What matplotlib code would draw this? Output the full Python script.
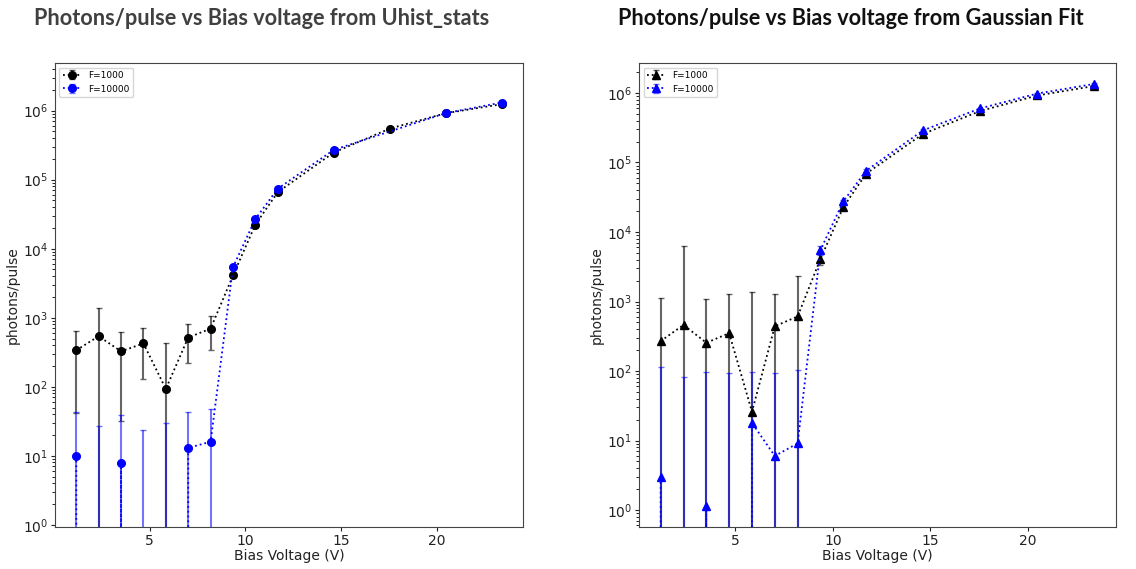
import numpy as np
import matplotlib
matplotlib.use("Agg")
import matplotlib.pyplot as plt

# bias voltages (V)
bias = [1.17, 2.34, 3.51, 4.68, 5.85, 7.02, 8.19, 9.36, 10.53, 11.7, 14.62, 17.55, 20.47, 23.4]
bias_blue_left = [1.17, 2.34, 3.51, 4.68, 5.85, 7.02, 8.19, 9.36, 10.53, 11.7, 14.62, 20.47, 23.4]

# Uhist_stats
uh_f1000 = [338, 540, 326, 424, 93, 517, 695, 4100, 22400, 66000, 247000, 549000, 917000, 1240000]
uh_f1000_err = [297, 830, 294, 296, 337, 298, 355, 250, 1200, 3000, 9000, 15000, 25000, 40000]
uh_f10000 = [10, -4, 7.9, -7, -1, 13, 16, 5400, 27000, 74000, 270000, 920000, 1310000]
uh_f10000_err = [33, 31, 31, 31, 31, 30, 31, 300, 1500, 3500, 10000, 25000, 40000]

# Gaussian fit
gf_f1000 = [270, 460, 255, 350, 26, 440, 610, 4100, 22700, 69000, 258000, 550000, 920000, 1260000]
gf_f1000_err = [860, 5740, 845, 930, 1344, 840, 1740, 700, 1500, 3000, 9000, 15000, 25000, 40000]
gf_f10000 = [2.95, -13, 1.15, -2, 17.9, 6.0, 9.1, 5500, 27500, 76000, 290000, 600000, 980000, 1350000]
gf_f10000_err = [111, 95, 97, 97, 80, 89, 96, 800, 1800, 3500, 10000, 16000, 26000, 40000]

fig = plt.figure(figsize=(11.36, 5.69), dpi=100)
ax1 = fig.add_axes([0.0484, 0.0738, 0.412, 0.8155])
ax2 = fig.add_axes([0.5625, 0.0738, 0.4199, 0.8155])

kw = dict(ls=':', lw=1.3, ms=5.5, capsize=2, elinewidth=1.5)

ax1.errorbar(bias, uh_f1000, yerr=uh_f1000_err, fmt='o', color='k',
             ecolor=(0, 0, 0, 0.6), label='F=1000', **kw)
ax1.errorbar(bias_blue_left, uh_f10000, yerr=uh_f10000_err, fmt='o', color='b',
             ecolor=(0, 0, 1, 0.55), label='F=10000', **kw)

ax2.errorbar(bias, gf_f1000, yerr=gf_f1000_err, fmt='^', color='k',
             ecolor=(0, 0, 0, 0.6), label='F=1000', **kw)
ax2.errorbar(bias, gf_f10000, yerr=gf_f10000_err, fmt='^', color='b',
             ecolor=(0, 0, 1, 0.55), label='F=10000', **kw)

for ax in (ax1, ax2):
    ax.set_yscale('log')
    ax.set_xlabel('Bias Voltage (V)', fontsize=10, color='#222222', labelpad=1)
    ax.set_ylabel('photons/pulse', fontsize=10, color='#222222', labelpad=2)
    ax.tick_params(labelsize=10, colors='#222222', length=3, pad=2)
    ax.tick_params(which='minor', length=2)
    for s in ax.spines.values():
        s.set_color('#444444')
    ax.legend(loc='upper left', fontsize=6.5)
    ax.set_xticks([5, 10, 15, 20])

ax1.set_ylim(0.93, 4.9e6)
ax2.set_ylim(0.57, 2.7e6)

fig.text(0.2306, 0.968, 'Photons/pulse vs Bias voltage from Uhist_stats',
         ha='center', va='center', fontsize=15.6, fontweight='bold',
         family='Lato', color='#404040')
fig.text(0.749, 0.968, 'Photons/pulse vs Bias voltage from Gaussian Fit',
         ha='center', va='center', fontsize=15.6, fontweight='bold',
         family='Lato', color='#111111')

fig.savefig('out.png', dpi=100)
